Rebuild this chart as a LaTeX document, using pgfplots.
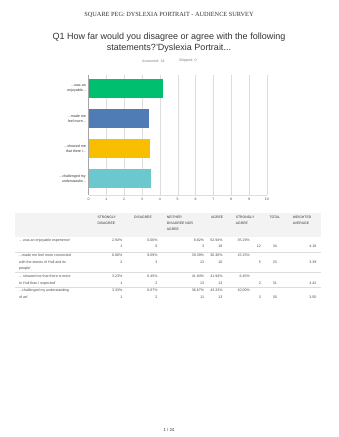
\documentclass[border=0pt]{standalone}
\usepackage{pgfplots}
\pgfplotsset{compat=1.18}
\usepackage{fontspec}
\setmainfont{Liberation Sans}
\newfontfamily\hdrserif{Liberation Serif}
\definecolor{smgreen}{HTML}{00BF6F}
\definecolor{smblue}{HTML}{507CB6}
\definecolor{smyellow}{HTML}{F9BE00}
\definecolor{smteal}{HTML}{6BC8CD}
\definecolor{txt}{HTML}{333333}
\definecolor{val}{HTML}{4A4A4A}
\definecolor{hdrbg}{HTML}{F3F3F3}
\definecolor{sep}{HTML}{DDDDDD}
\newcommand{\fs}[2]{\fontsize{#1}{#2}\selectfont}
\protected\def\ddd{...}
\begin{document}
\begin{tikzpicture}[x=1pt,y=1pt]
\useasboundingbox[fill=white] (0,0) rectangle (338,437);
\begin{axis}[
  at={(88.5pt,242pt)}, anchor=south west,
  scale only axis, width=178.4pt, height=120pt,
  xbar, bar width=19pt,
  xmin=0, xmax=10, ymin=-0.45, ymax=3.55, y dir=reverse,
  ytick={0,1,2,3},
  yticklabels={{\ddd was an\\enjoyable\ddd},{\ddd made me\\feel more\ddd},{\ddd showed me\\that there i\ddd},{\ddd challenged my\\understandin\ddd}},
  yticklabel style={align=right, font=\fs{3.6}{4.6}, text=txt, inner sep=0pt, xshift=-2.5pt},
  xtick={0,1,2,3,4,5,6,7,8,9,10},
  xticklabel style={font=\fs{3.5}{4}, text=val, inner sep=0pt, yshift=-3pt},
  /pgf/number format/assume math mode=true,
  major tick length=0pt,
  xmajorgrids, grid style={draw=sep, line width=0.4pt},
  axis x line*=bottom, axis y line*=left,
  x axis line style={draw=sep, -}, y axis line style={draw=gray!70, -},
  clip=false,
]
\addplot[fill=smgreen, draw=none, bar shift=0pt] coordinates {(4.18,0)};
\addplot[fill=smblue, draw=none, bar shift=0pt] coordinates {(3.39,1)};
\addplot[fill=smyellow, draw=none, bar shift=0pt] coordinates {(3.42,2)};
\addplot[fill=smteal, draw=none, bar shift=0pt] coordinates {(3.50,3)};
\end{axis}
\begin{scope}[shift={(0,437)}, yscale=-1]
  \node[font=\hdrserif\fs{6.3}{7}, text=txt] at (169,15) {SQUARE PEG: DYSLEXIA PORTRAIT - AUDIENCE SURVEY};
  \node[font=\fs{9}{11}, text=txt, align=center] at (169,42.5) {Q1 How far would you disagree or agree with the following\\statements?'Dyslexia Portrait\ddd};
  \node[font=\fs{3.6}{4}, text=gray, anchor=west, inner sep=0pt] at (142,61) {Answered: 34};
  \node[font=\fs{3.6}{4}, text=gray, anchor=west, inner sep=0pt] at (179,61) {Skipped: 0};
  \fill[hdrbg] (15,213) rectangle (321,237);
  \tikzset{hd/.style={font=\fs{3.4}{5.9}, text=txt, anchor=north west, inner sep=0pt, align=left}}
  \node[hd] at (97.3,216) {STRONGLY\\DISAGREE};
  \node[hd] at (134,216) {DISAGREE};
  \node[hd] at (166.7,216) {NEITHER\\DISAGREE NOR\\AGREE};
  \node[hd] at (211,216) {AGREE};
  \node[hd] at (235.7,216) {STRONGLY\\AGREE};
  \node[hd] at (269.3,216) {TOTAL};
  \node[hd] at (292.7,216) {WEIGHTED\\AVERAGE};
  \draw[sep, line width=0.4pt] (15,252.5) -- (321,252.5);
  \draw[sep, line width=0.4pt] (15,272) -- (321,272);
  \draw[sep, line width=0.4pt] (15,287) -- (321,287);
  \tikzset{lb/.style={font=\fs{3.6}{6.5}, text=val, anchor=north west, inner sep=0pt, align=left},
           vr/.style={font=\fs{3.6}{4}, text=val, anchor=base east, inner sep=0pt}}
  \node[lb] at (19,238.3) {\ddd\ was an enjoyable experience'};
  \node[lb] at (19,253.8) {\ddd made me feel more connected\\with the stories of Hull and its\\people'};
  \node[lb] at (19,274.8) {\ddd\ showed me that there is more\\to Hull than I expected'};
  \node[lb] at (19,288.8) {\ddd challenged my understanding\\of art'};
  \foreach \yp/\yc/\a/\ac/\b/\bc/\c/\cc/\d/\dc/\e/\ec/\t/\w in {
     241.3/247.8/2.94/1/0.00/0/8.82/3/52.94/18/35.29/12/34/4.18,
     256.8/263.3/6.06/2/9.09/3/39.39/13/30.30/10/15.15/5/33/3.39,
     277.8/284.3/3.23/1/6.45/2/41.94/13/41.94/13/6.45/2/31/3.42,
     291.8/298.3/3.33/1/6.67/2/36.67/11/43.33/13/10.00/3/30/3.50}{
    \node[vr] at (122.5,\yp) {\a\%};  \node[vr] at (122.5,\yc) {\ac};
    \node[vr] at (157.7,\yp) {\b\%};  \node[vr] at (157.7,\yc) {\bc};
    \node[vr] at (204.3,\yp) {\c\%};  \node[vr] at (204.3,\yc) {\cc};
    \node[vr] at (222.7,\yp) {\d\%};  \node[vr] at (222.7,\yc) {\dc};
    \node[vr] at (250,\yp) {\e\%};    \node[vr] at (261,\yc) {\ec};
    \node[vr] at (277,\yc) {\t};
    \node[vr] at (316.7,\yc) {\w};
  }
  \node[font=\fs{4.3}{5}, text=txt] at (169,430) {1 / 24};
\end{scope}
\end{tikzpicture}
\end{document}
